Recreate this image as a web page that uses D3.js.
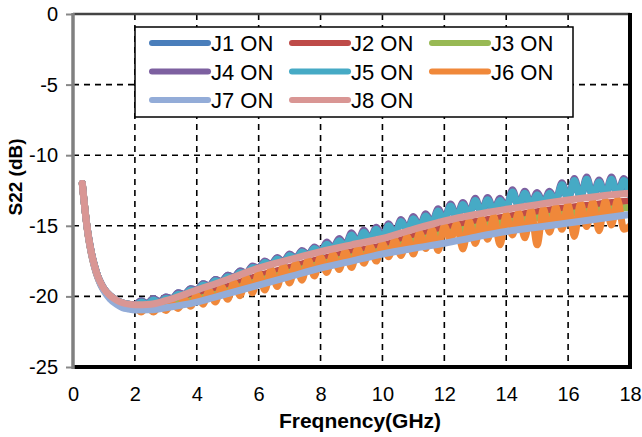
<!DOCTYPE html>
<html>
<head>
<meta charset="UTF-8">
<title>S22</title>
<style>
  body { margin: 0; background: #fff; }
  svg { display: block; font-family: "Liberation Sans", Arial, sans-serif; }
</style>
</head>
<body>
<div class="svg-zone"></div>
<script src="https://cdn.jsdelivr.net/npm/d3@7"></script>
<script>
// legend names / colours
const names = ["J1 ON", "J2 ON", "J3 ON", "J4 ON", "J5 ON", "J6 ON", "J7 ON", "J8 ON"];
const colors = ["#4a7ebb", "#be4b48", "#98b954", "#7d60a0", "#46aac5", "#f0883a", "#93acd8", "#d99694"];

const xTicks = [0, 2, 4, 6, 8, 10, 12, 14, 16, 18];
const yTicks = [0, -5, -10, -15, -20, -25];

// smooth traces (J2, J3, J7, J8)
const freqSmooth = [0.3, 0.35, 0.4, 0.45, 0.5, 0.6, 0.7, 0.8, 0.9, 1.0, 1.2, 1.4, 1.6, 1.8,
  2, 2.5, 3, 4, 5, 6, 7, 8, 9, 10, 11, 12, 13, 14, 15, 16, 17, 18];

const j2 = [-12.0, -13.1, -14.1, -15.0, -15.8, -17.0, -17.9, -18.6, -19.1, -19.5, -20.05, -20.35, -20.55, -20.7,
  -20.8, -20.75, -20.6, -20.0, -19.3, -18.55, -17.95, -17.35, -16.85, -16.4, -15.75, -15.15, -14.7, -14.35, -14.0, -13.7, -13.45, -13.25];
const j3 = [-12.0, -13.1, -14.1, -15.0, -15.8, -17.0, -17.9, -18.6, -19.15, -19.55, -20.1, -20.45, -20.65, -20.8,
  -20.85, -20.8, -20.7, -20.2, -19.6, -18.9, -18.3, -17.7, -17.2, -16.75, -16.1, -15.55, -15.1, -14.75, -14.45, -14.15, -13.9, -13.7];
const j7 = [-12.0, -13.1, -14.1, -15.05, -15.85, -17.05, -17.95, -18.65, -19.2, -19.6, -20.2, -20.55, -20.8, -20.9,
  -20.96, -20.95, -20.8, -20.4, -19.8, -19.2, -18.6, -18.0, -17.5, -17.0, -16.6, -16.24, -15.8, -15.4, -15.1, -14.8, -14.5, -14.2];
const j8 = [-12.0, -13.1, -14.1, -15.0, -15.75, -16.95, -17.85, -18.55, -19.05, -19.45, -19.95, -20.25, -20.45, -20.55,
  -20.6, -20.55, -20.3, -19.55, -18.8, -18.0, -17.4, -16.83, -16.35, -15.9, -15.25, -14.66, -14.2, -13.83, -13.5, -13.17, -12.9, -12.7];

// rippled traces (J1, J4, J5, J6)
const freqRipple = [0.3, 0.35, 0.4, 0.45, 0.5, 0.6, 0.7, 0.8, 0.9, 1.0, 1.2, 1.4, 1.6, 1.8,
  2.0, 2.2, 2.4, 2.6, 2.8, 3.0, 3.2, 3.4, 3.6, 3.8,
  4.0, 4.2, 4.4, 4.6, 4.8, 5.0, 5.2, 5.4, 5.6, 5.8,
  6.0, 6.2, 6.4, 6.6, 6.8, 7.0, 7.2, 7.4, 7.6, 7.8,
  8.0, 8.2, 8.4, 8.6, 8.8, 9.0, 9.2, 9.4, 9.6, 9.8,
  10.0, 10.2, 10.4, 10.6, 10.8, 11.0, 11.2, 11.4, 11.6, 11.8,
  12.0, 12.2, 12.4, 12.6, 12.8, 13.0, 13.2, 13.4, 13.6, 13.8,
  14.0, 14.2, 14.4, 14.6, 14.8, 15.0, 15.2, 15.4, 15.6, 15.8,
  16.0, 16.2, 16.4, 16.6, 16.8, 17.0, 17.2, 17.4, 17.6, 17.8,
  18.0];

const j1 = [-12.0, -13.1, -14.1, -15.0, -15.75, -16.95, -17.85, -18.55, -19.05, -19.45, -19.95, -20.25, -20.45, -20.55,
  -20.6, -20.3, -20.5, -20.15, -20.4, -20.05, -20.15, -19.75, -19.85, -19.45,
  -19.55, -19.1, -19.25, -18.8, -18.95, -18.5, -18.65, -18.2, -18.35, -17.9,
  -18.0, -17.55, -17.75, -17.3, -17.55, -17.05, -17.3, -16.8, -17.05, -16.55,
  -16.85, -16.3, -16.6, -16.05, -16.4, -15.7, -16.15, -15.5, -15.95, -15.3,
  -15.85, -15.05, -15.55, -14.75, -15.25, -14.6, -15.05, -14.4, -14.8, -14.05,
  -14.55, -13.75, -14.35, -13.65, -14.15, -13.4, -14.0, -13.35, -13.85, -13.4,
  -13.7, -12.8, -13.55, -12.9, -13.45, -13.0, -13.35, -12.9, -13.2, -12.3,
  -13.05, -12.0, -12.95, -11.9, -12.85, -12.1, -12.8, -11.9, -12.75, -12.0,
  -12.8];
const j4 = [-12.0, -13.1, -14.1, -15.0, -15.75, -16.95, -17.85, -18.55, -19.05, -19.45, -19.95, -20.25, -20.45, -20.55,
  -20.6, -20.3, -20.5, -20.15, -20.4, -20.05, -20.15, -19.75, -19.85, -19.45,
  -19.55, -19.1, -19.25, -18.8, -18.95, -18.5, -18.65, -18.2, -18.35, -17.85,
  -18.0, -17.5, -17.75, -17.25, -17.55, -17.0, -17.3, -16.75, -17.05, -16.5,
  -16.85, -16.15, -16.6, -15.9, -16.4, -15.5, -16.15, -15.3, -15.95, -15.1,
  -15.85, -14.85, -15.55, -14.55, -15.25, -14.35, -15.05, -14.15, -14.8, -13.8,
  -14.55, -13.45, -14.35, -13.35, -14.15, -13.05, -14.0, -13.0, -13.85, -13.05,
  -13.7, -12.45, -13.55, -12.55, -13.45, -12.65, -13.35, -12.55, -13.2, -11.95,
  -13.05, -11.65, -12.95, -11.55, -12.85, -11.75, -12.8, -11.55, -12.75, -11.65,
  -12.75];
const j5 = [-12.0, -13.1, -14.1, -15.0, -15.75, -16.95, -17.85, -18.55, -19.05, -19.45, -19.95, -20.25, -20.45, -20.55,
  -20.65, -20.4, -20.55, -20.25, -20.45, -20.15, -20.2, -19.85, -19.9, -19.55,
  -19.6, -19.2, -19.3, -18.9, -19.0, -18.6, -18.7, -18.3, -18.4, -17.95,
  -18.05, -17.6, -17.8, -17.35, -17.6, -17.1, -17.35, -16.85, -17.1, -16.6,
  -16.9, -16.3, -16.65, -16.05, -16.45, -15.65, -16.2, -15.45, -16.0, -15.25,
  -15.9, -15.0, -15.6, -14.7, -15.3, -14.5, -15.1, -14.3, -14.85, -13.95,
  -14.6, -13.6, -14.4, -13.5, -14.2, -13.2, -14.05, -13.15, -13.9, -13.2,
  -13.75, -12.6, -13.6, -12.7, -13.5, -12.8, -13.4, -12.7, -13.25, -12.1,
  -13.1, -11.8, -13.0, -11.7, -12.9, -11.9, -12.85, -11.7, -12.8, -11.8,
  -12.8];
const j6 = [-12.0, -13.1, -14.1, -15.05, -15.85, -17.05, -17.95, -18.65, -19.15, -19.55, -20.1, -20.45, -20.65, -20.75,
  -20.8, -21.1, -20.8, -21.1, -20.7, -21.0, -20.5, -20.85, -20.2, -20.7,
  -19.9, -20.55, -19.6, -20.4, -19.3, -20.2, -19.0, -19.95, -18.65, -19.75,
  -18.35, -19.55, -18.1, -19.3, -17.85, -19.05, -17.65, -18.85, -17.4, -18.55,
  -17.2, -18.3, -17.0, -18.1, -16.8, -17.95, -16.6, -17.65, -16.45, -17.5,
  -16.25, -17.2, -16.0, -17.1, -15.75, -17.0, -15.5, -16.6, -15.25, -16.75,
  -15.0, -16.0, -14.85, -16.65, -14.65, -16.25, -14.5, -15.95, -14.35, -16.35,
  -14.2, -15.65, -14.05, -15.85, -13.9, -16.35, -13.8, -15.45, -13.65, -15.25,
  -13.5, -15.75, -13.4, -15.05, -13.3, -15.35, -13.2, -14.95, -13.15, -15.25,
  -15.0];

const seriesFreq = [freqRipple, freqSmooth, freqSmooth, freqRipple, freqRipple, freqRipple, freqSmooth, freqSmooth];
const seriesVals = [j1, j2, j3, j4, j5, j6, j7, j8];

const width = 642, height = 437;
const x = d3.scaleLinear().domain([0, 18]).range([73, 630]);
const y = d3.scaleLinear().domain([-25, 0]).range([367, 14]);

const svg = d3.select(".svg-zone").append("svg")
  .attr("width", width)
  .attr("height", height);

// dashed grid
svg.append("g").selectAll("line")
  .data(xTicks.filter(d => d > 0 && d < 18))
  .enter().append("line")
  .attr("x1", d => x(d)).attr("x2", d => x(d))
  .attr("y1", y(0)).attr("y2", y(-25))
  .attr("stroke", "#000").attr("stroke-width", 1.6)
  .attr("stroke-dasharray", "6,5");
svg.append("g").selectAll("line")
  .data(yTicks.filter(d => d < 0 && d > -25))
  .enter().append("line")
  .attr("x1", x(0)).attr("x2", x(18))
  .attr("y1", d => y(d)).attr("y2", d => y(d))
  .attr("stroke", "#000").attr("stroke-width", 1.6)
  .attr("stroke-dasharray", "6,5");

// legend box (sits over the grid)
const legX = 135, legY = 27;
svg.append("rect")
  .attr("x", legX).attr("y", legY)
  .attr("width", 438).attr("height", 90)
  .attr("fill", "#fff").attr("stroke", "#000").attr("stroke-width", 1.5);

// traces
svg.append("clipPath").attr("id", "plot")
  .append("rect").attr("x", x(0)).attr("y", y(0))
  .attr("width", x(18) - x(0)).attr("height", y(-25) - y(0));

const line = d3.line()
  .x(d => x(d[0]))
  .y(d => y(d[1]))
  .curve(d3.curveMonotoneX);

svg.append("g").attr("clip-path", "url(#plot)")
  .selectAll("path")
  .data(seriesVals.map((v, i) => v.map((val, k) => [seriesFreq[i][k], val])))
  .enter().append("path")
  .attr("d", line)
  .attr("fill", "none")
  .attr("stroke", (d, i) => colors[i])
  .attr("stroke-width", 7)
  .attr("stroke-linecap", "round")
  .attr("stroke-linejoin", "round");

// axes
const yAxis = svg.append("g")
  .attr("transform", "translate(" + x(0) + ",0)")
  .call(d3.axisLeft(y).tickValues(yTicks).tickSize(7).tickPadding(8).tickFormat(d => String(d)));
yAxis.select(".domain").remove();
yAxis.selectAll(".tick line").attr("stroke", "#888").attr("stroke-width", 2);
yAxis.selectAll("text").attr("font-size", 20).attr("fill", "#000")
  .style("font-family", "'Liberation Sans', Arial, sans-serif");

const xAxis = svg.append("g")
  .attr("transform", "translate(0," + y(-25) + ")")
  .call(d3.axisBottom(x).tickValues(xTicks).tickSize(0).tickPadding(20));
xAxis.select(".domain").remove();
xAxis.selectAll("text").attr("font-size", 20).attr("fill", "#000")
  .style("font-family", "'Liberation Sans', Arial, sans-serif");

// frame
svg.append("line").attr("x1", x(0)).attr("x2", x(18)).attr("y1", y(0)).attr("y2", y(0))
  .attr("stroke", "#444").attr("stroke-width", 2.5);
svg.append("line").attr("x1", x(18)).attr("x2", x(18)).attr("y1", y(0) - 1).attr("y2", y(-25) + 2)
  .attr("stroke", "#000").attr("stroke-width", 4);
svg.append("line").attr("x1", x(0)).attr("x2", x(18) + 2).attr("y1", y(-25)).attr("y2", y(-25))
  .attr("stroke", "#000").attr("stroke-width", 4);
svg.append("line").attr("x1", x(0)).attr("x2", x(0)).attr("y1", y(0) - 1).attr("y2", y(-25) + 2)
  .attr("stroke", "#808080").attr("stroke-width", 3.5);

// legend entries
const leg = svg.append("g").selectAll("g")
  .data(names)
  .enter().append("g")
  .attr("transform", (d, i) => "translate(" + (legX + 17 + (i % 3) * 140) + "," + (legY + 16 + Math.floor(i / 3) * 28.5) + ")");
leg.append("line")
  .attr("x1", 0).attr("x2", 56)
  .attr("y1", 0).attr("y2", 0)
  .attr("stroke", (d, i) => colors[i])
  .attr("stroke-width", 6)
  .attr("stroke-linecap", "round");
leg.append("text")
  .attr("x", 59).attr("y", 8)
  .attr("font-size", 22)
  .text(d => d);

// axis titles
svg.append("text")
  .attr("x", 360).attr("y", 428)
  .attr("text-anchor", "middle")
  .attr("font-size", 21).attr("font-weight", "bold")
  .text("Freqnency(GHz)");
svg.append("text")
  .attr("transform", "translate(22,177) rotate(-90)")
  .attr("text-anchor", "middle")
  .attr("font-size", 19).attr("font-weight", "bold")
  .text("S22 (dB)");
</script>
</body>
</html>
